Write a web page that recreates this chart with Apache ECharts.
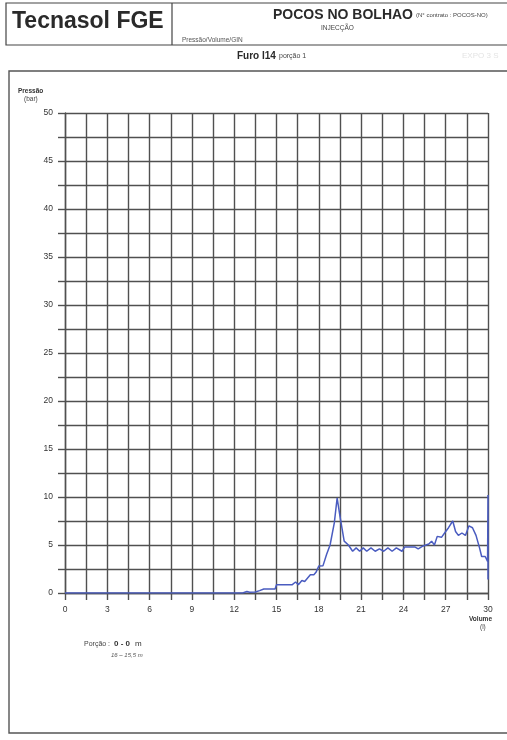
<!DOCTYPE html>
<html><head><meta charset="utf-8">
<script src="https://cdn.jsdelivr.net/npm/echarts@6/dist/echarts.min.js"></script>
<style>html,body{margin:0;padding:0;background:#fff}#c{width:507px;height:740px}</style>
</head><body><div id="c"></div>
<script>
// Volume (l)
const volume = [0, 12.6, 12.9, 13.1, 13.5, 13.8, 14.1, 14.9, 15.0, 16.1, 16.35, 16.55, 16.8, 17.0, 17.4, 17.65, 17.8, 18.0, 18.3, 18.55, 18.8, 19.1, 19.3, 19.5, 19.8, 20.1, 20.4, 20.65, 20.9, 21.15, 21.4, 21.7, 22.0, 22.3, 22.6, 22.9, 23.2, 23.5, 23.9, 24.1, 24.8, 25.05, 25.4, 25.8, 26.0, 26.2, 26.4, 26.7, 27.0, 27.2, 27.5, 27.7, 27.9, 28.15, 28.4, 28.65, 28.9, 29.15, 29.4, 29.55, 29.8, 29.97, 30.0, 30.0];
// Pressão (bar)
const pressure = [0, 0, 0.15, 0.07, 0.1, 0.25, 0.42, 0.42, 0.85, 0.85, 1.15, 0.87, 1.3, 1.2, 1.9, 1.9, 2.15, 2.8, 2.85, 4.0, 5.0, 7.3, 9.9, 8.0, 5.4, 5.0, 4.35, 4.7, 4.35, 4.7, 4.35, 4.7, 4.35, 4.6, 4.35, 4.7, 4.35, 4.7, 4.35, 4.8, 4.8, 4.6, 4.9, 5.1, 5.4, 5.0, 5.9, 5.8, 6.4, 6.8, 7.5, 6.4, 6.0, 6.25, 6.0, 7.0, 6.8, 6.0, 4.7, 3.8, 3.8, 3.3, 10.2, 1.4];
const xTicks = [0, 3, 6, 9, 12, 15, 18, 21, 24, 27, 30];
const yTicks = [0, 5, 10, 15, 20, 25, 30, 35, 40, 45, 50];

const chart = echarts.init(document.getElementById('c'), null, {renderer: 'canvas'});
const font = 'Liberation Sans, Arial, sans-serif';
const txt = '#333';
const gridColor = '#505050';
const pts = volume.map((v, i) => [v, pressure[i]]);

chart.setOption({
  backgroundColor: '#fff',
  animation: false,
  grid: {left: 65, right: 19, top: 113, bottom: 147},
  xAxis: {
    type: 'value', min: 0, max: 30, interval: 1.5,
    axisLine: {show: true, lineStyle: {color: gridColor, width: 1.4}},
    axisTick: {show: true, length: 7, lineStyle: {color: gridColor, width: 1.4}},
    splitLine: {show: true, lineStyle: {color: gridColor, width: 1.4}},
    axisLabel: {color: txt, fontSize: 8.5, fontFamily: font, margin: 12,
      formatter: v => xTicks.includes(Math.round(v * 10) / 10) ? String(v) : ''}
  },
  yAxis: {
    type: 'value', min: 0, max: 50, interval: 2.5,
    axisLine: {show: true, lineStyle: {color: gridColor, width: 1.4}},
    axisTick: {show: true, length: 7, lineStyle: {color: gridColor, width: 1.4}},
    splitLine: {show: true, lineStyle: {color: gridColor, width: 1.4}},
    axisLabel: {color: txt, fontSize: 8.5, fontFamily: font, margin: 12,
      formatter: v => yTicks.includes(v) ? String(v) : ''}
  },
  series: [{
    type: 'line', data: pts, showSymbol: false, symbol: 'none',
    lineStyle: {color: '#4a5cc0', width: 1.5}, z: 5
  }],
  graphic: [
    // header boxes
    {type: 'rect', shape: {x: 6, y: 3, width: 520, height: 42}, style: {fill: 'none', stroke: '#444', lineWidth: 1.2}},
    {type: 'line', shape: {x1: 172, y1: 3, x2: 172, y2: 45}, style: {stroke: '#444', lineWidth: 1.2}},
    {type: 'text', left: 12, top: 10, style: {text: 'Tecnasol FGE', font: 'bold 23px ' + font, fill: '#2a2a2a'}},
    {type: 'text', left: 273, top: 8, style: {text: 'POCOS NO BOLHAO', font: 'bold 14px ' + font, fill: '#2a2a2a'}},
    {type: 'text', left: 416, top: 12, style: {text: '(N° contrato : POCOS-NO)', font: '6px ' + font, fill: '#444'}},
    {type: 'text', left: 321, top: 25, style: {text: 'INJECÇÃO', font: '6.5px ' + font, fill: '#444'}},
    {type: 'text', left: 182, top: 37, style: {text: 'Pressão/Volume/GIN', font: '6.5px ' + font, fill: '#555'}},
    {type: 'text', left: 462, top: 52, style: {text: 'EXPO 3 S', font: '8px ' + font, fill: '#e4e4e4'}},
    // subtitle
    {type: 'text', left: 237, top: 51, style: {text: 'Furo I14', font: 'bold 10px ' + font, fill: '#2a2a2a'}},
    {type: 'text', left: 279, top: 53, style: {text: 'porção 1', font: '7px ' + font, fill: '#444'}},
    // frame
    {type: 'rect', shape: {x: 9, y: 71, width: 520, height: 662}, style: {fill: 'none', stroke: '#555', lineWidth: 1.4}},
    // axis names
    {type: 'text', left: 18, top: 88, style: {text: 'Pressão', font: 'bold 6.5px ' + font, fill: '#333'}},
    {type: 'text', left: 24, top: 96, style: {text: '(bar)', font: '6.5px ' + font, fill: '#444'}},
    {type: 'text', left: 469, top: 616, style: {text: 'Volume', font: 'bold 6.5px ' + font, fill: '#333'}},
    {type: 'text', left: 480, top: 624, style: {text: '(l)', font: '6.5px ' + font, fill: '#444'}},
    // notes
    {type: 'text', left: 84, top: 641, style: {text: 'Porção : ', font: '7px ' + font, fill: '#444'}},
    {type: 'text', left: 114, top: 640, style: {text: '0 - 0', font: 'bold 8px ' + font, fill: '#333'}},
    {type: 'text', left: 135, top: 640, style: {text: 'm', font: '8px ' + font, fill: '#333'}},
    {type: 'text', left: 111, top: 652, style: {text: '16 – 15,5 m', font: 'italic 6px ' + font, fill: '#555'}}
  ]
});
</script></body></html>
